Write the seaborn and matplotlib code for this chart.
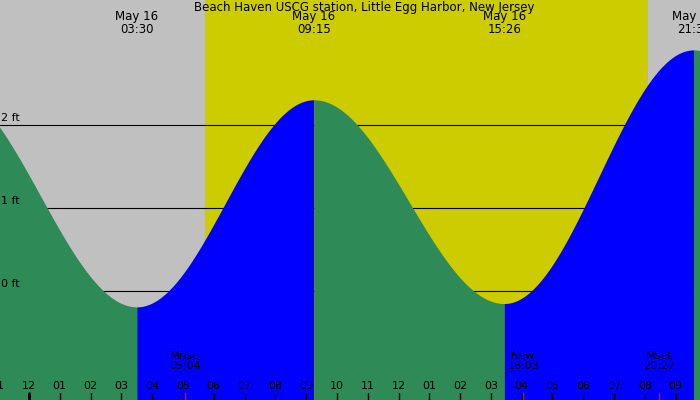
import matplotlib
matplotlib.use("Agg")
import matplotlib.pyplot as plt
import numpy as np
import seaborn as sns

sns.set_style("white")
plt.rcParams["font.family"] = ["DejaVu Sans"]
plt.rcParams["text.color"] = "black"

# tide extremes: hours after midnight May 16, height in ft
ext_hours = [-2.75, 3.5, 9.25, 15.43, 21.58, 27.8]
ext_feet = [2.48, -0.19, 2.3, -0.15, 2.9, -0.1]
ext_labels = ["", "May 16\n03:30", "May 16\n09:15", "May 16\n15:26", "May 16\n21:35", ""]
sunrise, sunset = 5.71, 20.1
moon_events = [(5.07, "Mrise\n05:04"), (16.05, "New\n16:03"), (20.45, "Mset\n20:27")]
ft_lines = [0, 1, 2]

x0, x1 = -0.94, 21.79
y0, y1 = -1.31, 3.5

fig = plt.figure(figsize=(7, 4), dpi=100)
ax = fig.add_axes([0, 0, 1, 1])
ax.set_xlim(x0, x1)
ax.set_ylim(y0, y1)
ax.axis("off")

ax.axvspan(x0, sunrise, color="#c0c0c0", zorder=0)
ax.axvspan(sunrise, sunset, color="#cccc00", zorder=0)
ax.axvspan(sunset, x1, color="#c0c0c0", zorder=0)

for f in ft_lines:
    ax.axhline(f, color="black", lw=0.8, zorder=1)
    ax.text(x0 + 0.03, f + 0.02, f"{f} ft", fontsize=8, va="bottom", zorder=4)

# tide curve between extremes (cosine shape)
for i in range(len(ext_hours) - 1):
    ta, tb = ext_hours[i], ext_hours[i + 1]
    ha, hb = ext_feet[i], ext_feet[i + 1]
    t = np.linspace(ta, tb, 200)
    h = ha + (hb - ha) * (1 - np.cos(np.pi * (t - ta) / (tb - ta))) / 2
    color = "#0000ff" if hb > ha else "#2e8b57"
    ax.fill_between(t, y0, h, color=color, lw=0, zorder=2)

for t, lab in zip(ext_hours, ext_labels):
    if lab:
        ax.text(t, y1 - 0.12, lab, ha="center", va="top", fontsize=8.5,
                linespacing=1.0, zorder=4)

ax.text(10.9, y1 - 0.01, "Beach Haven USCG station, Little Egg Harbor, New Jersey",
        ha="center", va="top", fontsize=8.5, zorder=4)

for hr in range(-1, 22):
    lab = f"{(hr % 12) or 12:02d}" if hr >= 0 else "11"
    ax.text(hr, -1.14, lab, ha="center", va="center", fontsize=8, zorder=4)
    ax.plot([hr, hr], [y0, -1.22], color="black", lw=2 if hr % 24 == 0 else 1,
            zorder=4)

for t, lab in moon_events:
    ax.text(t, -0.84, lab, ha="center", va="center", fontsize=8,
            linespacing=1.0, zorder=4)
    ax.plot([t, t], [y0, -1.22], color="red", lw=1, zorder=4)

fig.savefig("out.png", dpi=100)
